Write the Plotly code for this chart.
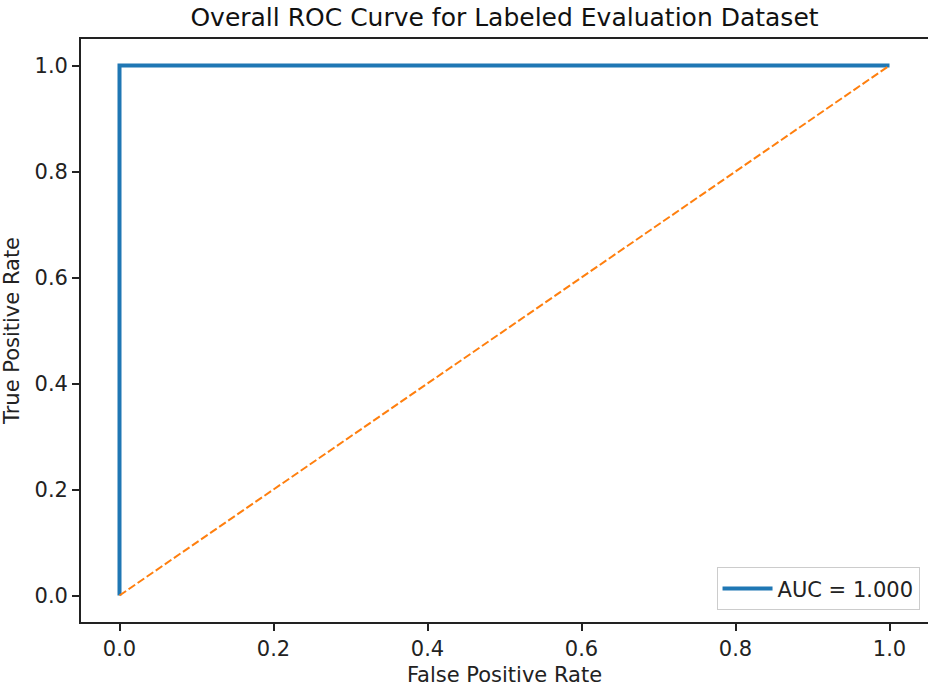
import plotly.graph_objects as go

fpr = [0.0, 0.0, 1.0]
tpr = [0.0, 1.0, 1.0]
diag_x = [0.0, 1.0]
diag_y = [0.0, 1.0]
auc_label = "AUC = 1.000"
ticks = [0.0, 0.2, 0.4, 0.6, 0.8, 1.0]
tick_text = ["0.0", "0.2", "0.4", "0.6", "0.8", "1.0"]

fig = go.Figure()
fig.add_trace(go.Scatter(x=fpr, y=tpr, mode="lines", name=auc_label,
                         line=dict(color="#1f77b4", width=4)))
fig.add_trace(go.Scatter(x=diag_x, y=diag_y, mode="lines", showlegend=False,
                         line=dict(color="#ff7f0e", width=2, dash="8px,3px")))

font = "DejaVu Sans, sans-serif"
axis_common = dict(
    range=[-0.05, 1.05], tickvals=ticks, ticktext=tick_text,
    showgrid=False, zeroline=False, showline=True, linecolor="#222", linewidth=1.7,
    mirror=True, ticks="outside", ticklen=7, tickwidth=1.7, tickcolor="#222",
    tickfont=dict(family=font, size=21, color="#222"), automargin=False,
)
fig.update_xaxes(**axis_common, title=dict(text="False Positive Rate",
                 font=dict(family=font, size=21, color="#222"), standoff=7))
fig.update_yaxes(**axis_common, title=dict(text="True Positive Rate",
                 font=dict(family=font, size=21, color="#222"), standoff=9))

fig.update_layout(
    width=928, height=689, autosize=False,
    margin=dict(l=81, r=0, t=39, b=67, autoexpand=False),
    plot_bgcolor="white", paper_bgcolor="white",
    title=dict(text="Overall ROC Curve for Labeled Evaluation Dataset",
               font=dict(family=font, size=25, color="#111"),
               x=0.5, xref="paper", xanchor="center", y=1, yref="paper",
               yanchor="bottom", pad=dict(b=13)),
    legend=dict(x=0.99, y=0.02, xanchor="right", yanchor="bottom",
                bgcolor="rgba(255,255,255,0.8)", bordercolor="#ccc", borderwidth=1,
                itemwidth=50,
                font=dict(family=font, size=21, color="#222")),
)
fig.write_html("out.html", config={"displayModeBar": False},
               post_script="document.body.style.margin='0';document.body.style.overflow='hidden';")
